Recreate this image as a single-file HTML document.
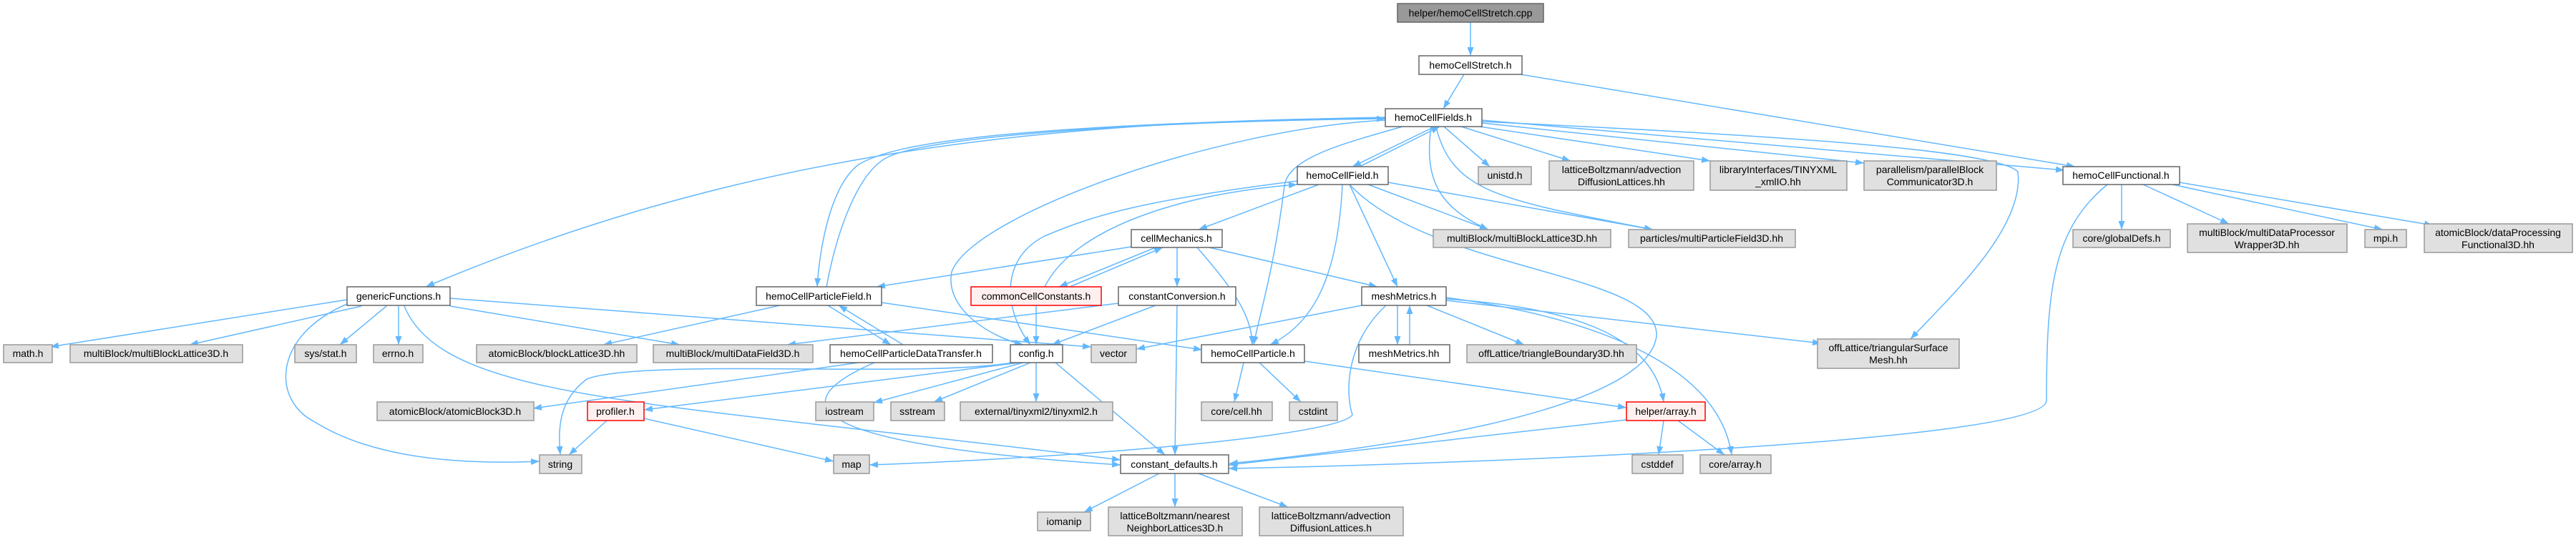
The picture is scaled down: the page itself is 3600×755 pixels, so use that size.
<!DOCTYPE html>
<html><head><meta charset="utf-8"><style>
html,body{margin:0;padding:0;background:#fff;}
svg{display:block;}
text{font-family:"Liberation Sans",sans-serif;font-size:14px;fill:#000;text-anchor:middle;}
.w{fill:#fff;stroke:#666;stroke-width:1.5}
.g{fill:#e0e0e0;stroke:#999;stroke-width:1.5}
.r{fill:#fff0f0;stroke:#f00;stroke-width:1.5}
.d{fill:#999;stroke:#666;stroke-width:1.5}
path.e{fill:none;stroke:#63b8ff;stroke-width:1.5;marker-end:url(#a)}
</style></head><body>
<svg width="3600" height="755" viewBox="0 0 3600 755" xmlns="http://www.w3.org/2000/svg">
<defs><marker id="a" markerUnits="userSpaceOnUse" markerWidth="13" markerHeight="10" refX="12" refY="4.5" orient="auto"><path d="M0,0 L12,4.5 L0,9 z" fill="#63b8ff"/></marker></defs>
<g>
<path class="e" d="M2055,31 L2055,78"/>
<path class="e" d="M2046,104 L2017,152"/>
<path class="e" d="M2125,104 L2900,233"/>
<path class="e" d="M1936,165 C1400,168 1000,230 595,401"/>
<path class="e" d="M1936,164 C1400,175 1250,200 1200,230 C1160,260 1145,350 1142,401"/>
<path class="e" d="M1155,401 C1170,320 1200,240 1240,220 C1300,190 1600,170 1936,166"/>
<path class="e" d="M1936,168 C1700,180 1360,300 1330,380 C1320,430 1380,470 1430,482"/>
<path class="e" d="M1960,177 C1880,200 1800,220 1795,260 C1780,380 1760,440 1752,482"/>
<path class="e" d="M2005,177 L1890,233"/>
<path class="e" d="M1900,233 L2012,177"/>
<path class="e" d="M2018,177 L2082,233"/>
<path class="e" d="M2042,177 L2195,225"/>
<path class="e" d="M2068,177 L2390,225"/>
<path class="e" d="M2071,172 L2605,228"/>
<path class="e" d="M2071,168 L2885,238"/>
<path class="e" d="M2000,177 C1990,250 2010,290 2080,321"/>
<path class="e" d="M2007,178 C2030,270 2100,280 2310,321"/>
<path class="e" d="M2071,170 C2500,190 2790,210 2820,240 C2830,320 2720,420 2670,474"/>
<path class="e" d="M1843,258 L1675,321"/>
<path class="e" d="M1876,258 C1870,380 1840,450 1775,482"/>
<path class="e" d="M1886,258 L1953,401"/>
<path class="e" d="M1912,258 L2080,321"/>
<path class="e" d="M1940,255 L2310,321"/>
<path class="e" d="M1886,258 C2000,380 2320,380 2315,470 C2300,580 1900,630 1718,648"/>
<path class="e" d="M1813,253 C1600,280 1530,300 1460,330 C1400,360 1400,430 1440,482"/>
<path class="e" d="M1460,401 C1500,320 1650,270 1813,258"/>
<path class="e" d="M1581,345 L1225,401"/>
<path class="e" d="M1615,346 L1480,401"/>
<path class="e" d="M1495,401 L1625,346"/>
<path class="e" d="M1645,346 L1645,401"/>
<path class="e" d="M1673,346 C1720,400 1750,440 1750,482"/>
<path class="e" d="M1690,346 L1925,401"/>
<path class="e" d="M1448,427 L1448,482"/>
<path class="e" d="M1615,427 L1470,482"/>
<path class="e" d="M1645,427 L1642,636"/>
<path class="e" d="M1563,424 L1100,482"/>
<path class="e" d="M1157,427 L1245,482"/>
<path class="e" d="M1262,482 L1172,427"/>
<path class="e" d="M1090,427 L843,482"/>
<path class="e" d="M1232,423 L1680,489"/>
<path class="e" d="M1200,507 L745,571"/>
<path class="e" d="M1222,507 C1100,560 1100,620 1566,650"/>
<path class="e" d="M485,419 L70,485"/>
<path class="e" d="M505,428 L265,482"/>
<path class="e" d="M540,428 L475,482"/>
<path class="e" d="M557,428 L557,482"/>
<path class="e" d="M485,425 C380,470 380,560 440,590 C520,640 640,650 754,645"/>
<path class="e" d="M565,428 C620,560 900,560 1566,643"/>
<path class="e" d="M629,428 L950,482"/>
<path class="e" d="M629,417 L1525,485"/>
<path class="e" d="M1425,507 L900,573"/>
<path class="e" d="M1430,507 L1221,563"/>
<path class="e" d="M1440,507 L1305,562"/>
<path class="e" d="M1448,507 L1448,562"/>
<path class="e" d="M1475,507 L1628,636"/>
<path class="e" d="M1420,506 C1300,530 900,500 820,530 C780,560 780,600 783,636"/>
<path class="e" d="M848,588 L795,636"/>
<path class="e" d="M900,585 L1165,645"/>
<path class="e" d="M1620,662 L1515,716"/>
<path class="e" d="M1642,662 L1642,709"/>
<path class="e" d="M1675,662 L1800,709"/>
<path class="e" d="M1738,507 L1725,562"/>
<path class="e" d="M1760,507 L1818,562"/>
<path class="e" d="M1823,505 L2273,570"/>
<path class="e" d="M2325,588 L2318,636"/>
<path class="e" d="M2345,588 L2410,636"/>
<path class="e" d="M2273,587 L1717,650"/>
<path class="e" d="M1903,427 L1588,488"/>
<path class="e" d="M1953,427 L1953,482"/>
<path class="e" d="M1970,482 L1970,427"/>
<path class="e" d="M1994,427 L2130,482"/>
<path class="e" d="M2021,420 L2545,480"/>
<path class="e" d="M2021,418 C2200,430 2310,470 2325,562"/>
<path class="e" d="M2021,416 C2200,440 2400,500 2420,636"/>
<path class="e" d="M1937,427 C1880,480 1880,550 1890,580 C1870,610 1500,640 1215,650"/>
<path class="e" d="M2965,258 L2965,321"/>
<path class="e" d="M2995,258 L3115,313"/>
<path class="e" d="M3036,258 L3330,321"/>
<path class="e" d="M3046,255 L3400,315"/>
<path class="e" d="M2945,258 C2870,320 2860,400 2860,560 C2860,620 2000,650 1717,655"/>
</g>
<g>
<rect class="d" x="1953" y="5" width="204" height="26"/><text x="2055" y="23">helper/hemoCellStretch.cpp</text>
<rect class="w" x="1983" y="78" width="144" height="26"/><text x="2055" y="96">hemoCellStretch.h</text>
<rect class="w" x="1936" y="152" width="135" height="25"/><text x="2003" y="169">hemoCellFields.h</text>
<rect class="w" x="2883" y="233" width="163" height="25"/><text x="2964" y="250">hemoCellFunctional.h</text>
<rect class="w" x="1813" y="233" width="127" height="25"/><text x="1876" y="250">hemoCellField.h</text>
<rect class="g" x="2066" y="233" width="74" height="25"/><text x="2103" y="250">unistd.h</text>
<rect class="g" x="2165" y="225" width="202" height="41"/><text x="2266" y="242">latticeBoltzmann/advection</text><text x="2266" y="259">DiffusionLattices.hh</text>
<rect class="g" x="2390" y="225" width="191" height="41"/><text x="2485" y="242">libraryInterfaces/TINYXML</text><text x="2485" y="259">_xmlIO.hh</text>
<rect class="g" x="2605" y="225" width="185" height="41"/><text x="2697" y="242">parallelism/parallelBlock</text><text x="2697" y="259">Communicator3D.h</text>
<rect class="g" x="2897" y="321" width="136" height="25"/><text x="2965" y="338">core/globalDefs.h</text>
<rect class="g" x="3057" y="313" width="223" height="40"/><text x="3168" y="330">multiBlock/multiDataProcessor</text><text x="3168" y="347">Wrapper3D.hh</text>
<rect class="g" x="3305" y="321" width="58" height="25"/><text x="3334" y="338">mpi.h</text>
<rect class="g" x="3388" y="313" width="207" height="40"/><text x="3491" y="330">atomicBlock/dataProcessing</text><text x="3491" y="347">Functional3D.hh</text>
<rect class="w" x="1581" y="321" width="127" height="25"/><text x="1644" y="338">cellMechanics.h</text>
<rect class="g" x="2003" y="321" width="248" height="25"/><text x="2127" y="338">multiBlock/multiBlockLattice3D.hh</text>
<rect class="g" x="2276" y="321" width="233" height="25"/><text x="2392" y="338">particles/multiParticleField3D.hh</text>
<rect class="w" x="485" y="401" width="144" height="26"/><text x="557" y="419">genericFunctions.h</text>
<rect class="w" x="1057" y="401" width="175" height="26"/><text x="1144" y="419">hemoCellParticleField.h</text>
<rect class="r" x="1357" y="401" width="182" height="26"/><text x="1448" y="419">commonCellConstants.h</text>
<rect class="w" x="1563" y="401" width="164" height="26"/><text x="1645" y="419">constantConversion.h</text>
<rect class="w" x="1903" y="401" width="118" height="26"/><text x="1962" y="419">meshMetrics.h</text>
<rect class="g" x="5" y="482" width="68" height="25"/><text x="39" y="499">math.h</text>
<rect class="g" x="98" y="482" width="241" height="25"/><text x="218" y="499">multiBlock/multiBlockLattice3D.h</text>
<rect class="g" x="412" y="482" width="86" height="25"/><text x="455" y="499">sys/stat.h</text>
<rect class="g" x="522" y="482" width="69" height="25"/><text x="556" y="499">errno.h</text>
<rect class="g" x="666" y="482" width="224" height="25"/><text x="778" y="499">atomicBlock/blockLattice3D.hh</text>
<rect class="g" x="913" y="482" width="223" height="25"/><text x="1024" y="499">multiBlock/multiDataField3D.h</text>
<rect class="w" x="1160" y="482" width="227" height="25"/><text x="1273" y="499">hemoCellParticleDataTransfer.h</text>
<rect class="w" x="1412" y="482" width="73" height="25"/><text x="1448" y="499">config.h</text>
<rect class="g" x="1525" y="482" width="63" height="25"/><text x="1556" y="499">vector</text>
<rect class="w" x="1679" y="482" width="144" height="25"/><text x="1751" y="499">hemoCellParticle.h</text>
<rect class="w" x="1899" y="482" width="127" height="25"/><text x="1962" y="499">meshMetrics.hh</text>
<rect class="g" x="2050" y="482" width="237" height="25"/><text x="2168" y="499">offLattice/triangleBoundary3D.hh</text>
<rect class="g" x="2540" y="474" width="198" height="41"/><text x="2639" y="491">offLattice/triangularSurface</text><text x="2639" y="508">Mesh.hh</text>
<rect class="g" x="527" y="562" width="219" height="26"/><text x="636" y="580">atomicBlock/atomicBlock3D.h</text>
<rect class="r" x="821" y="562" width="79" height="26"/><text x="860" y="580">profiler.h</text>
<rect class="g" x="1140" y="562" width="81" height="26"/><text x="1180" y="580">iostream</text>
<rect class="g" x="1245" y="562" width="75" height="26"/><text x="1282" y="580">sstream</text>
<rect class="g" x="1342" y="562" width="213" height="26"/><text x="1448" y="580">external/tinyxml2/tinyxml2.h</text>
<rect class="g" x="1679" y="562" width="99" height="26"/><text x="1728" y="580">core/cell.hh</text>
<rect class="g" x="1802" y="562" width="67" height="26"/><text x="1835" y="580">cstdint</text>
<rect class="r" x="2273" y="562" width="110" height="26"/><text x="2328" y="580">helper/array.h</text>
<rect class="g" x="754" y="636" width="59" height="26"/><text x="783" y="654">string</text>
<rect class="g" x="1165" y="636" width="50" height="26"/><text x="1190" y="654">map</text>
<rect class="w" x="1566" y="636" width="151" height="26"/><text x="1641" y="654">constant_defaults.h</text>
<rect class="g" x="2281" y="636" width="71" height="26"/><text x="2316" y="654">cstddef</text>
<rect class="g" x="2376" y="636" width="99" height="26"/><text x="2425" y="654">core/array.h</text>
<rect class="g" x="1450" y="716" width="74" height="26"/><text x="1487" y="734">iomanip</text>
<rect class="g" x="1549" y="709" width="187" height="40"/><text x="1642" y="726">latticeBoltzmann/nearest</text><text x="1642" y="743">NeighborLattices3D.h</text>
<rect class="g" x="1760" y="709" width="201" height="40"/><text x="1860" y="726">latticeBoltzmann/advection</text><text x="1860" y="743">DiffusionLattices.h</text>
</g>
</svg>
</body></html>
